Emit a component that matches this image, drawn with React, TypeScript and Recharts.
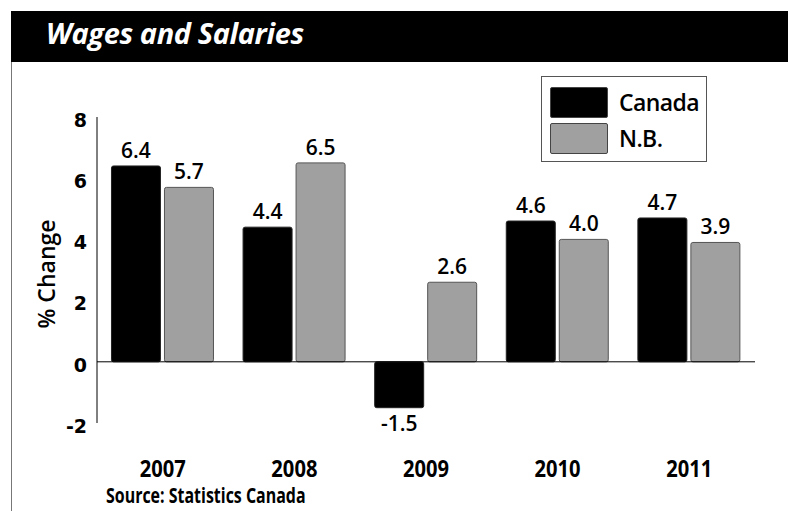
import { Bar, BarChart, LabelList, ReferenceLine, XAxis, YAxis } from "recharts";

const years = ["2007", "2008", "2009", "2010", "2011"];
const canada = [6.4, 4.4, -1.5, 4.6, 4.7];
const nb = [5.7, 6.5, 2.6, 4.0, 3.9];
const yTicks = [-2, 0, 2, 4, 6, 8];

const data = years.map((year, i) => ({ year, canada: canada[i], nb: nb[i] }));

const SANS = "'Open Sans', sans-serif";

function LegendBox() {
  const rows = [
    { label: "Canada", color: "#000" },
    { label: "N.B.", color: "#a0a0a0" },
  ];
  return (
    <div
      style={{
        position: "absolute",
        left: 541,
        top: 76,
        width: 166,
        height: 86,
        border: "1px solid #555",
        background: "#fff",
        boxSizing: "border-box",
        padding: "7px 0 0 8px",
      }}
    >
      {rows.map((r) => (
        <div key={r.label} style={{ display: "flex", alignItems: "center", height: 36 }}>
          <div
            style={{
              width: 58,
              height: 31,
              background: r.color,
              border: "1px solid #444",
              borderRadius: 2,
              boxSizing: "border-box",
            }}
          />
          <span style={{ marginLeft: 11, fontFamily: SANS, fontWeight: 600, fontSize: 23, color: "#000", letterSpacing: -0.6 }}>
            {r.label}
          </span>
        </div>
      ))}
    </div>
  );
}

function YearTick({ x, payload }: any) {
  return (
    <text
      transform={`translate(${x},467) scale(0.84,1)`}
      textAnchor="middle"
      dominantBaseline="central"
      fontFamily={SANS}
      fontWeight={700}
      fontSize={24}
      fill="#000"
    >
      {payload.value}
    </text>
  );
}

const fmt = (v: any) => Number(v).toFixed(1);
const labelStyle = { fill: "#000", fontFamily: SANS, fontWeight: 600, fontSize: 21 };

export default function App() {
  return (
    <div style={{ position: "absolute", left: 0, top: 0, width: 788, height: 511, background: "#fff", overflow: "hidden" }}>
      <div style={{ position: "absolute", left: 11, top: 11, width: 777, height: 51, background: "#000" }} />
      <div
        style={{
          position: "absolute",
          left: 46,
          top: 13,
          color: "#fff",
          fontFamily: SANS,
          fontWeight: 700,
          fontStyle: "italic",
          fontSize: 29,
          letterSpacing: -0.4,
          whiteSpace: "nowrap",
        }}
      >
        Wages and Salaries
      </div>
      <div style={{ position: "absolute", left: 11, top: 62, width: 1, height: 449, background: "#777" }} />
      <div
        style={{
          position: "absolute",
          left: 46,
          top: 274,
          transform: "translate(-50%, -50%) rotate(-90deg)",
          fontFamily: SANS,
          fontWeight: 600,
          fontSize: 23,
          whiteSpace: "nowrap",
        }}
      >
        % Change
      </div>
      <div
        style={{
          position: "absolute",
          left: 106,
          top: 481,
          fontFamily: SANS,
          fontWeight: 700,
          fontSize: 21,
          whiteSpace: "nowrap",
          transform: "scaleX(0.76)",
          transformOrigin: "left center",
        }}
      >
        Source: Statistics Canada
      </div>
      <div style={{ position: "absolute", left: 0, top: 0 }}>
        <BarChart
          width={788}
          height={511}
          data={data}
          margin={{ top: 117, right: 33, bottom: 48, left: 0 }}
          barGap={4}
          barCategoryGap="11%"
        >
          <XAxis dataKey="year" axisLine={false} tickLine={false} height={40} tick={<YearTick />} interval={0} />
          <YAxis
            width={97}
            domain={[-2, 8]}
            ticks={yTicks}
            axisLine={{ stroke: "#000", strokeWidth: 1 }}
            tickLine={false}
            tickSize={0}
            tickMargin={10}
            tick={{ fill: "#000", fontFamily: "'DejaVu Sans', sans-serif", fontWeight: 700, fontSize: 19, dy: 3 }}
          />
          <ReferenceLine y={0} stroke="#000" strokeWidth={1} />
          <Bar dataKey="canada" name="Canada" fill="#000" stroke="#222" strokeWidth={1} radius={2} isAnimationActive={false}>
            <LabelList dataKey="canada" position="top" offset={8} formatter={fmt} style={labelStyle} />
          </Bar>
          <Bar dataKey="nb" name="N.B." fill="#a0a0a0" stroke="#555" strokeWidth={1} radius={2} isAnimationActive={false}>
            <LabelList dataKey="nb" position="top" offset={8} formatter={fmt} style={labelStyle} />
          </Bar>
        </BarChart>
      </div>
      <LegendBox />
    </div>
  );
}
